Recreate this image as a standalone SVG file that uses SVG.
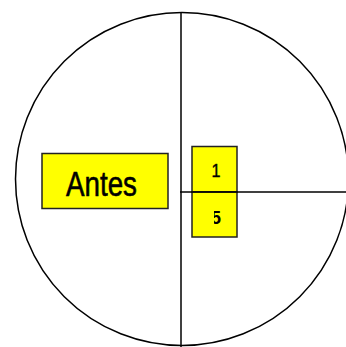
<svg xmlns="http://www.w3.org/2000/svg" width="346" height="347" viewBox="0 0 346 347">
<style>
.box{fill:#ffff00;stroke:#222;stroke-width:1.5}
.ln{stroke:#000;stroke-width:1.5;fill:none}
text{font-family:"Liberation Sans",Arial,sans-serif;fill:#000}
</style>
<defs>
<clipPath id="c5"><rect x="214" y="200" width="20" height="30"/></clipPath>
</defs>
<rect width="346" height="347" fill="#fff"/>
<g id="connectors">
<circle class="ln" cx="182" cy="179" r="166.5"/>
<line class="ln" x1="181" y1="12" x2="181" y2="347"/>
</g>
<g id="antes">
<rect class="box" x="42" y="153.5" width="126" height="55"/>
<text x="66" y="196" font-size="35" textLength="71" lengthAdjust="spacingAndGlyphs" stroke="#000" stroke-width="0.6">Antes</text>
</g>
<g id="box1">
<rect class="box" x="192" y="146.5" width="45" height="45.5"/>
<text x="211.5" y="177" font-size="18" textLength="9" lengthAdjust="spacingAndGlyphs" stroke="#000" stroke-width="0.4">1</text>
</g>
<g id="box5">
<rect class="box" x="192" y="192" width="45" height="45"/>
<text x="211" y="224" font-size="18" font-weight="bold" textLength="10" lengthAdjust="spacingAndGlyphs" clip-path="url(#c5)">5</text>
</g>
<line class="ln" x1="180" y1="192" x2="346" y2="192"/>
</svg>
